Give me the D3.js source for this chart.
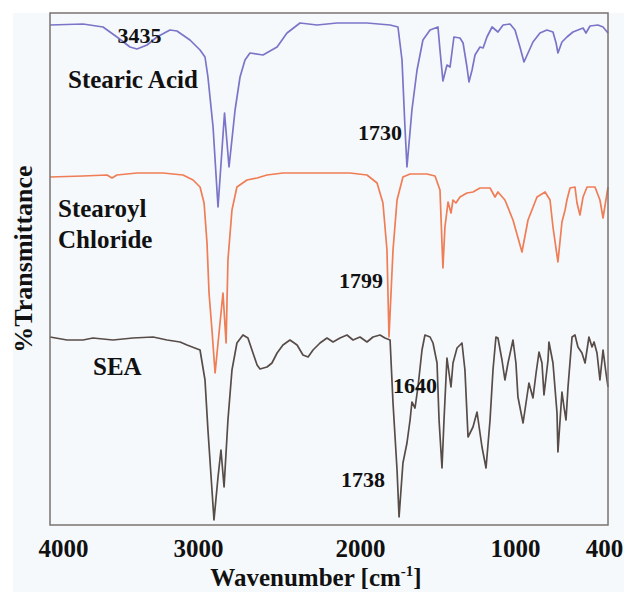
<!DOCTYPE html>
<html>
<head>
<meta charset="utf-8">
<script src="https://cdn.jsdelivr.net/npm/d3@7"></script>
<style>
  html, body { margin: 0; padding: 0; background: #fff; }
  svg text { font-family: 'Liberation Serif', 'Times New Roman', serif; font-weight: bold; fill: #111; }
</style>
</head>
<body>
<div id="chart"></div>
<script>
// FTIR spectra, offset-stacked (arbitrary %T units)

const xTicks = [4000, 3000, 2000, 1000, 400];

// Stearic Acid
const saWave = [4000, 3787, 3658, 3568, 3484, 3439, 3374, 3310, 3226, 3181, 3097, 3032, 3000, 2981, 2948, 2916, 2874, 2845, 2806, 2774, 2742, 2710, 2626, 2535, 2471, 2387, 2277, 2148, 1955, 1806, 1755, 1729, 1710, 1697, 1665, 1632, 1594, 1548, 1497, 1484, 1465, 1439, 1419, 1394, 1355, 1335, 1310, 1297, 1277, 1258, 1226, 1206, 1181, 1148, 1110, 1077, 1032, 1000, 968, 942, 916, 884, 839, 794, 755, 735, 723, 697, 665, 626, 561, 542, 516, 465, 432, 400];
const saT = [100, 100.2, 99.6, 97.6, 95.6, 95.2, 96, 97.6, 99, 98.8, 97, 95, 93.6, 89.6, 79.6, 63.6, 82.4, 71.6, 83, 89.6, 93, 94.4, 94, 95.6, 98.4, 100.4, 100, 100.4, 100.4, 100, 99.6, 93, 79.6, 71.6, 83, 91, 97, 99, 99.6, 95, 88.8, 92, 91.6, 97.6, 97.4, 96.4, 91.6, 88.6, 91, 94, 95.6, 95.4, 97.6, 99.6, 98.6, 100, 100.2, 99, 95.6, 92.6, 94.4, 96.6, 98.4, 99, 98.6, 96.4, 94.4, 96.6, 97.6, 98.6, 99.4, 98.4, 99.8, 100, 99.6, 98.4];

// Stearoyl Chloride
const scWave = [4000, 3787, 3632, 3600, 3568, 3439, 3271, 3142, 3077, 3032, 3006, 2987, 2974, 2955, 2935, 2884, 2864, 2852, 2826, 2794, 2729, 2664, 2600, 2497, 2368, 2194, 2065, 1955, 1890, 1852, 1826, 1813, 1787, 1761, 1723, 1677, 1568, 1516, 1484, 1465, 1452, 1432, 1413, 1400, 1381, 1355, 1310, 1271, 1226, 1161, 1129, 1110, 1065, 1013, 955, 916, 858, 806, 774, 755, 723, 697, 677, 665, 645, 613, 600, 581, 561, 535, 484, 452, 432, 400];
const scT = [69.6, 69.8, 70, 69.4, 70, 70.4, 70.4, 70, 69, 67.6, 64.4, 56.4, 46.4, 39, 30.4, 46.4, 36.4, 53, 63, 67.6, 69, 69.4, 70, 70.4, 70.4, 70.4, 70.4, 70, 68.4, 64.4, 55, 37.6, 55, 65, 69.6, 70.2, 70.2, 69.8, 67, 51.4, 59.6, 64.6, 62.4, 65, 64.4, 65.6, 66.4, 66.6, 67.4, 67.4, 65.6, 66.6, 65, 61, 54.6, 61, 65.6, 66.6, 65, 59.6, 52.6, 60.6, 63, 65, 67.4, 67.6, 64.4, 62, 65.6, 67.6, 67.6, 65, 61.4, 67.6];

// SEA
const seaWave = [4000, 3890, 3787, 3723, 3594, 3465, 3335, 3245, 3161, 3116, 3032, 3000, 2981, 2955, 2942, 2916, 2897, 2877, 2852, 2826, 2794, 2755, 2723, 2697, 2664, 2645, 2600, 2568, 2535, 2497, 2452, 2406, 2368, 2335, 2303, 2258, 2213, 2174, 2129, 2084, 2045, 2000, 1955, 1916, 1871, 1839, 1806, 1787, 1761, 1748, 1723, 1710, 1697, 1677, 1665, 1645, 1626, 1600, 1581, 1548, 1529, 1503, 1490, 1471, 1458, 1439, 1413, 1400, 1374, 1342, 1323, 1303, 1271, 1245, 1213, 1187, 1161, 1142, 1123, 1110, 1084, 1065, 1045, 1013, 994, 981, 948, 929, 910, 884, 864, 845, 826, 813, 787, 781, 755, 729, 723, 697, 684, 671, 658, 632, 613, 594, 568, 548, 523, 503, 490, 471, 452, 432, 413, 400];
const seaT = [37.6, 37, 37, 37.4, 37, 37.4, 37.6, 37, 36.6, 36, 35, 29, 19, 7, 1, 9.6, 15, 7.6, 21, 31, 36.4, 38, 37.4, 35, 32, 31.2, 31.6, 32.4, 34.4, 36, 37, 36, 34, 33.6, 35, 36.4, 37.4, 36.6, 37.4, 38, 37, 37.6, 36.6, 37.6, 38, 37.4, 37, 24.4, 11, 1.6, 12.4, 14.4, 16.4, 21, 24.6, 23.4, 27.6, 35, 38, 37.6, 36.4, 32.4, 21, 11.4, 21, 33.4, 27.6, 32.4, 35.4, 36.4, 31, 17.6, 19.6, 22.6, 15.6, 11.4, 21, 31, 37.6, 37.4, 33, 29, 32.4, 37, 32.4, 25.6, 20.4, 24.4, 28.4, 25.4, 30.4, 34.6, 32.4, 26, 33, 36.6, 32.4, 22.4, 14.6, 26.6, 23.6, 21, 27.6, 37.6, 38, 35.6, 34.4, 32.4, 37.6, 35.6, 36.6, 34.4, 29, 35, 30.4, 27.6];

const series = [
  { name: 'Stearic Acid', wave: saWave, t: saT, color: '#7a75c8' },
  { name: 'Stearoyl Chloride', wave: scWave, t: scT, color: '#ef7d55' },
  { name: 'SEA', wave: seaWave, t: seaT, color: '#574c48' }
];

const width = 624, height = 592;
const margin = { top: 13, right: 16, bottom: 67, left: 50 };
const plotW = width - margin.left - margin.right;   // 558
const plotH = height - margin.top - margin.bottom;  // 512

const svg = d3.select('#chart').append('svg')
  .attr('width', width)
  .attr('height', height);

// pale page tint
svg.append('rect')
  .attr('x', 13).attr('y', 13)
  .attr('width', width - 13).attr('height', height - 13)
  .attr('fill', '#f6f9fc');

const g = svg.append('g')
  .attr('transform', 'translate(' + margin.left + ',' + margin.top + ')');

const x = d3.scaleLinear().domain([4000, 400]).range([0, plotW]);
const y = d3.scaleLinear().domain([0, 100]).range([plotH, 12]);

// spectra
const line = d3.line()
  .x(d => x(d[0]))
  .y(d => y(d[1]));

series.forEach(s => {
  const pts = s.wave.map((w, i) => [w, s.t[i]]);
  g.append('path')
    .datum(pts)
    .attr('fill', 'none')
    .attr('stroke', s.color)
    .attr('stroke-width', 1.7)
    .attr('stroke-linejoin', 'round')
    .attr('d', line);
});

// frame
g.append('rect')
  .attr('x', 0).attr('y', 0)
  .attr('width', plotW).attr('height', plotH)
  .attr('fill', 'none')
  .attr('stroke', '#7a7370')
  .attr('stroke-width', 1.5);

// x axis, labels only
const xAxis = g.append('g')
  .attr('transform', 'translate(0,' + plotH + ')')
  .call(d3.axisBottom(x).tickValues(xTicks).tickSize(0).tickFormat(d3.format('d')));
xAxis.select('.domain').remove();
xAxis.selectAll('text')
  .attr('y', 32)
  .attr('dy', 0)
  .attr('dx', d => d === 4000 ? 13 : (d === 3000 ? -7 : (d === 400 ? -4 : 0)))
  .style('font-size', '25px')
  .style('font-family', "'Liberation Serif', serif")
  .style('font-weight', 'bold')
  .attr('fill', '#111');

// axis titles
const xt = svg.append('text')
  .attr('x', 316)
  .attr('y', 586)
  .attr('text-anchor', 'middle')
  .style('font-size', '25px');
xt.append('tspan').text('Wavenumber [cm');
xt.append('tspan').attr('dy', -10).style('font-size', '15px').text('-1');
xt.append('tspan').attr('dy', 10).text(']');

svg.append('text')
  .attr('transform', 'translate(32,259) rotate(-90)')
  .attr('text-anchor', 'middle')
  .style('font-size', '26px')
  .text('%Transmittance');

// annotations
function note(txt, px, py, anchor, size) {
  svg.append('text')
    .attr('x', px).attr('y', py)
    .attr('text-anchor', anchor)
    .style('font-size', size + 'px')
    .text(txt);
}
note('3435', margin.left + x(3435) + 2, 43, 'middle', 22);
note('Stearic Acid', 68, 88, 'start', 25);
note('1730', 402, 140, 'end', 22);
note('Stearoyl', 58, 217, 'start', 25);
note('Chloride', 58, 248, 'start', 25);
note('1799', 383, 288, 'end', 22);
note('SEA', 93, 375, 'start', 25);
note('1640', 393, 393, 'start', 22);
note('1738', 385, 487, 'end', 22);
</script>
</body>
</html>
